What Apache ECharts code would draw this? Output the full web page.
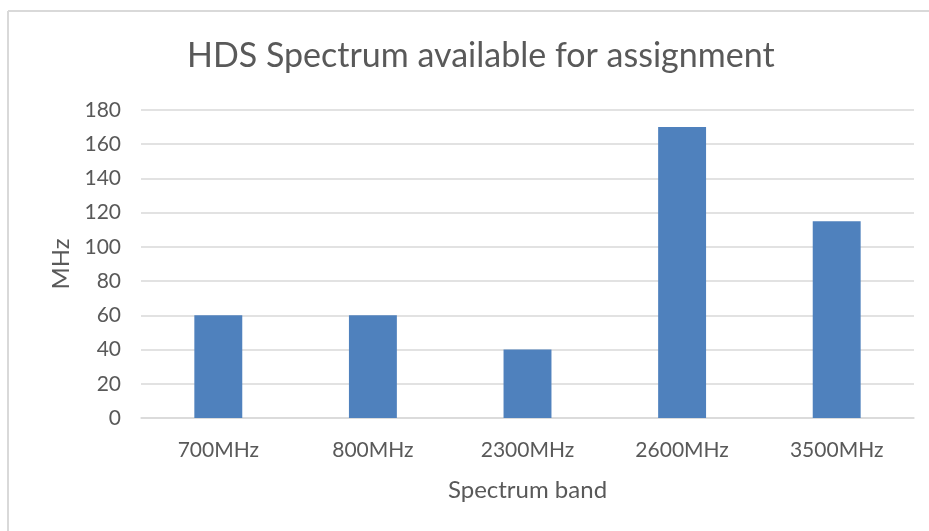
<!DOCTYPE html>
<html>
<head>
<meta charset="utf-8">
<style>
  html, body { margin: 0; padding: 0; background: #fff; }
  #chart { width: 929px; height: 531px; }
</style>
<script src="https://cdn.jsdelivr.net/npm/echarts@6/dist/echarts.min.js"></script>
</head>
<body>
<div id="chart"></div>
<script>
// data
var bands = ['700MHz', '800MHz', '2300MHz', '2600MHz', '3500MHz'];
var spectrum = [60, 60, 40, 170, 115];

var font = 'Lato, "Open Sans", sans-serif';
var grey = '#595959';

var chart = echarts.init(document.getElementById('chart'));

chart.setOption({
  animation: false,
  textStyle: { fontFamily: font },
  title: {
    text: 'HDS Spectrum available for assignment',
    left: 182,
    top: 34,
    textStyle: { color: grey, fontSize: 34, fontWeight: 'normal', fontFamily: font }
  },
  // chart frame, only top and left edges are visible in the picture
  graphic: [
    { type: 'line', shape: { x1: 8, y1: 11, x2: 929, y2: 11 }, style: { stroke: '#d9d9d9', lineWidth: 2 } },
    { type: 'line', shape: { x1: 8, y1: 11, x2: 8, y2: 531 }, style: { stroke: '#d9d9d9', lineWidth: 2 } }
  ],
  grid: { left: 141, right: 15, top: 110, bottom: 113 },
  xAxis: {
    type: 'category',
    data: bands,
    name: 'Spectrum band',
    nameLocation: 'middle',
    nameGap: 60,
    nameTextStyle: { color: grey, fontSize: 24 },
    axisLine: { lineStyle: { color: '#d9d9d9', width: 1.5 } },
    axisTick: { show: false },
    axisLabel: { color: grey, fontSize: 21, margin: 22 }
  },
  yAxis: {
    type: 'value',
    min: 0,
    max: 180,
    interval: 20,
    name: 'MHz',
    nameLocation: 'middle',
    nameGap: 67,
    nameTextStyle: { color: grey, fontSize: 24 },
    axisLine: { show: false },
    axisTick: { show: false },
    axisLabel: { color: grey, fontSize: 21, margin: 20 },
    splitLine: { lineStyle: { color: '#d9d9d9', width: 1.5 } }
  },
  series: [{
    type: 'bar',
    data: spectrum,
    barWidth: '31%',
    itemStyle: { color: '#4f81bd' }
  }]
});
</script>
</body>
</html>
